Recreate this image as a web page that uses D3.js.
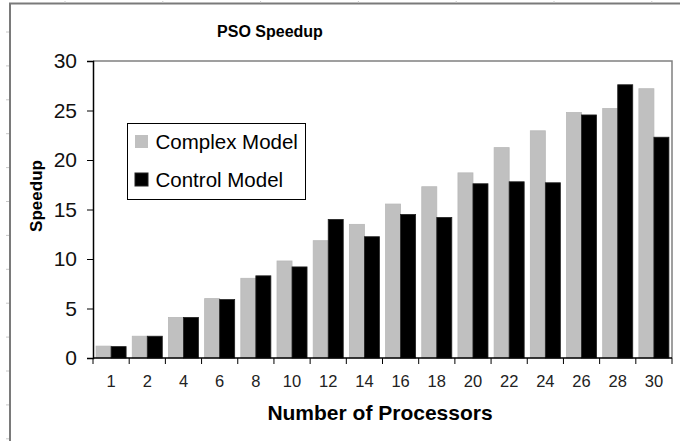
<!DOCTYPE html>
<html>
<head>
<meta charset="utf-8">
<script src="https://cdn.jsdelivr.net/npm/d3@7"></script>
<style>
  html, body { margin: 0; padding: 0; background: #fff; }
  svg { display: block; font-family: "Liberation Sans", Arial, sans-serif; }
</style>
</head>
<body>
<svg id="chart" width="680" height="441"></svg>
<script>
// Speedup measured at each processor count
const processors = ["1", "2", "4", "6", "8", "10", "12", "14", "16", "18", "20", "22", "24", "26", "28", "30"];
const complexModel = [1.2, 2.2, 4.1, 6.0, 8.05, 9.8, 11.85, 13.5, 15.55, 17.3, 18.7, 21.25, 22.95, 24.8, 25.2, 27.2];
const controlModel = [1.15, 2.2, 4.1, 5.9, 8.3, 9.2, 14.0, 12.25, 14.5, 14.2, 17.6, 17.8, 17.7, 24.55, 27.6, 22.3];
const seriesNames = ["Complex Model", "Control Model"];
const seriesColors = ["#c0c0c0", "#000000"];
const yTicks = [0, 5, 10, 15, 20, 25, 30];

const svg = d3.select("#chart");
const plot = { left: 93, right: 672, top: 61, bottom: 358 };

// Sheet frame with faint ruler marks
const frame = svg.append("g");
frame.append("path")
  .attr("d", `M10,441 V3.5 H680`)
  .attr("fill", "none").attr("stroke", "#7a7a7a").attr("stroke-width", 2);
frame.selectAll("line.rv").data(d3.range(32, 441, 33.9)).join("line")
  .attr("x1", 6).attr("x2", 9).attr("y1", d => d).attr("y2", d => d)
  .attr("stroke", "#c8c8c8").attr("stroke-width", 1);
frame.selectAll("line.rh").data(d3.range(65, 680, 97.8)).join("line")
  .attr("x1", d => d).attr("x2", d => d).attr("y1", 1).attr("y2", 3)
  .attr("stroke", "#c8c8c8").attr("stroke-width", 1);

const x = d3.scaleBand().domain(processors)
  .range([plot.left, plot.right]).paddingInner(0.17).paddingOuter(0.085);
const xs = d3.scaleBand().domain(seriesNames).range([0, x.bandwidth()]);
const y = d3.scaleLinear().domain([0, 30]).range([plot.bottom, plot.top]);

// Plot area border (top and right)
svg.append("path")
  .attr("d", `M${plot.left},${plot.top} H${plot.right} V${plot.bottom}`)
  .attr("fill", "none").attr("stroke", "#808080").attr("stroke-width", 1.5);

// Bars
const rows = processors.map((p, i) => ({ p, vals: [complexModel[i], controlModel[i]] }));
const groups = svg.append("g").selectAll("g").data(rows).join("g")
  .attr("transform", d => `translate(${x(d.p)},0)`);
groups.selectAll("rect").data(d => d.vals.map((v, k) => ({ v, k }))).join("rect")
  .attr("x", d => xs(seriesNames[d.k]))
  .attr("width", xs.bandwidth())
  .attr("y", d => y(d.v))
  .attr("height", d => y(0) - y(d.v))
  .attr("fill", d => seriesColors[d.k])
  .attr("stroke", d => d.k === 1 ? "#222" : "#b8b8b8")
  .attr("stroke-width", 0.8);

// Y axis
const yAxis = svg.append("g").attr("transform", `translate(${plot.left},0)`)
  .call(d3.axisLeft(y).tickValues(yTicks).tickSize(6).tickPadding(10));
yAxis.select(".domain").attr("stroke", "#000").attr("stroke-width", 1.5);
yAxis.selectAll(".tick line").attr("stroke", "#000");
yAxis.selectAll(".tick text").attr("font-size", 21).attr("fill", "#111")
  .attr("font-family", "Liberation Sans, Arial, sans-serif");

// X axis: ticks sit on category boundaries
const xAxisG = svg.append("g").attr("transform", `translate(0,${plot.bottom})`);
xAxisG.append("line")
  .attr("x1", plot.left).attr("x2", plot.right)
  .attr("stroke", "#000").attr("stroke-width", 1.5);
const step = x.step();
const bounds = d3.range(processors.length + 1).map(i => plot.left + i * step);
xAxisG.selectAll("line.tk").data(bounds).join("line")
  .attr("x1", d => d).attr("x2", d => d).attr("y1", 0).attr("y2", 6)
  .attr("stroke", "#000");
xAxisG.selectAll("text").data(processors).join("text")
  .attr("x", d => x(d) + x.bandwidth() / 2)
  .attr("y", 29)
  .attr("text-anchor", "middle")
  .attr("font-size", 16.5)
  .attr("fill", "#222")
  .text(d => d);

// Titles
svg.append("text").attr("x", 270).attr("y", 37)
  .attr("text-anchor", "middle").attr("font-weight", "bold").attr("font-size", 16)
  .text("PSO Speedup");
svg.append("text").attr("x", 380).attr("y", 420)
  .attr("text-anchor", "middle").attr("font-weight", "bold").attr("font-size", 21)
  .text("Number of Processors");
svg.append("text")
  .attr("transform", "translate(42,196) rotate(-90)")
  .attr("text-anchor", "middle").attr("font-weight", "bold").attr("font-size", 17)
  .text("Speedup");

// Legend
const legend = svg.append("g");
legend.append("rect").attr("x", 127.5).attr("y", 123.5).attr("width", 178).attr("height", 76)
  .attr("fill", "#fff").attr("stroke", "#000").attr("stroke-width", 1);
const items = legend.selectAll("g").data(seriesNames).join("g")
  .attr("transform", (d, i) => `translate(135,${135 + i * 38})`);
items.append("rect").attr("width", 13).attr("height", 13)
  .attr("fill", (d, i) => seriesColors[i])
  .attr("stroke", (d, i) => i === 1 ? "#222" : "none");
items.append("text").attr("x", 20.5).attr("y", 14)
  .attr("font-size", 20.5).attr("fill", "#000")
  .text(d => d);
</script>
</body>
</html>
